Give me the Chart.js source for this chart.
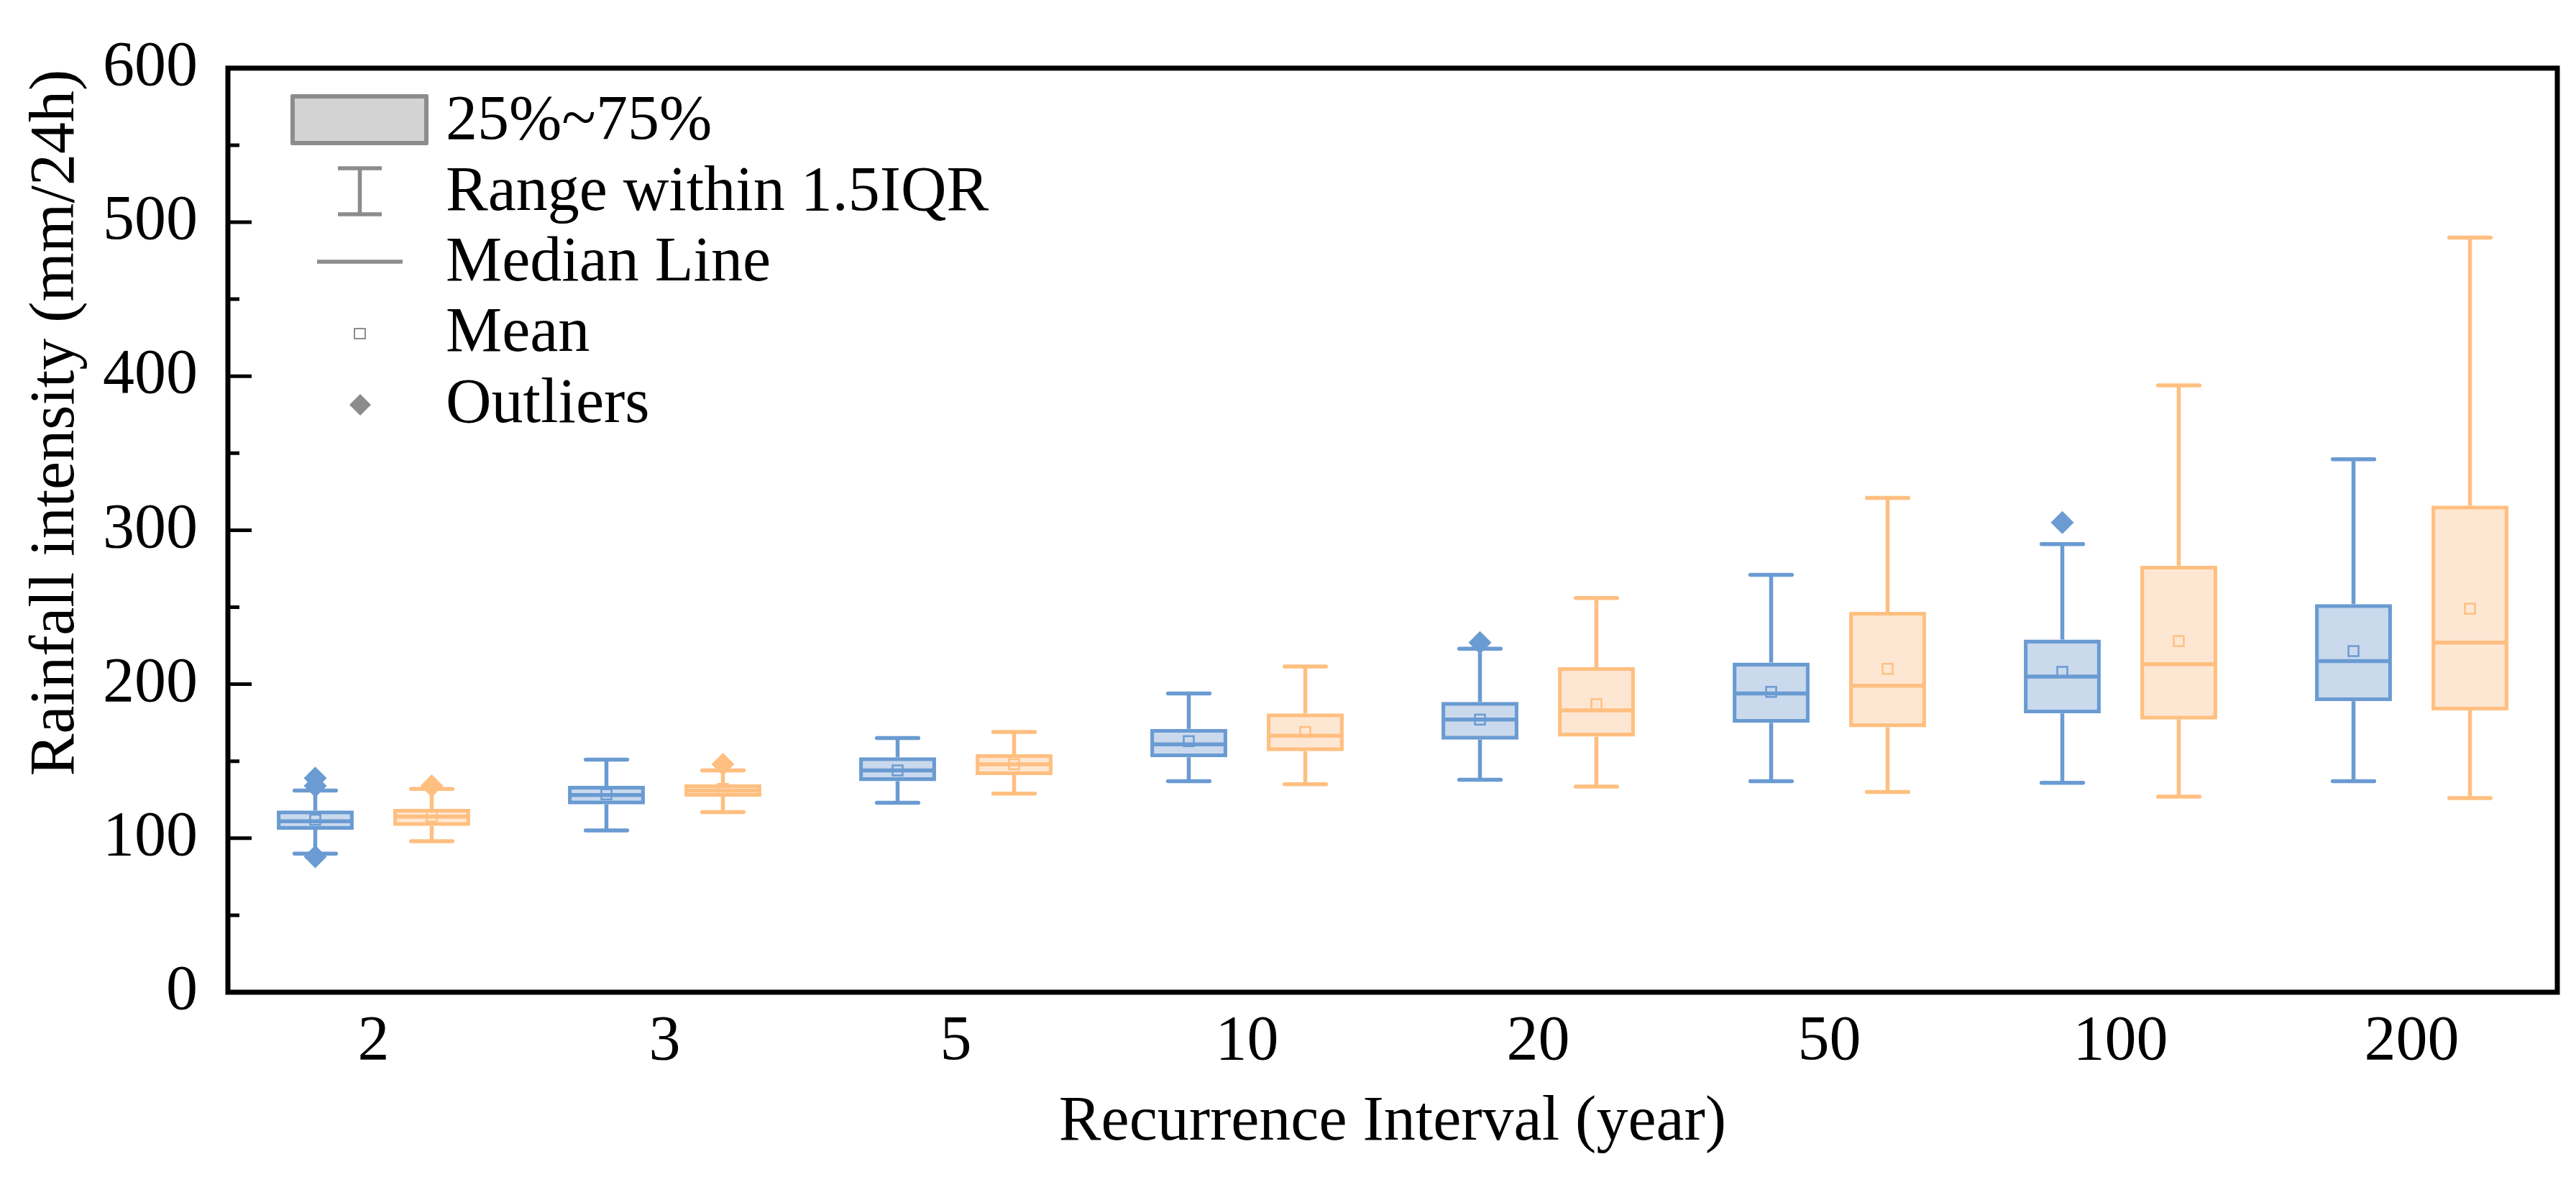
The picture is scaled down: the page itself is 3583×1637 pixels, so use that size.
<!DOCTYPE html>
<html>
<head>
<meta charset="utf-8">
<script src="https://cdn.jsdelivr.net/npm/chart.js@4.4.1/dist/chart.umd.min.js"></script>
<style>
  html, body { margin: 0; padding: 0; background: #fff; }
  #wrap { width: 3583px; height: 1637px; }
</style>
</head>
<body>
<div id="wrap"><canvas id="chart" width="3583" height="1637"></canvas></div>
<script>
// recurrence intervals (years)
const categories = ['2', '3', '5', '10', '20', '50', '100', '200'];
const yTicks = [0, 100, 200, 300, 400, 500, 600];

// blue series
const blueLow    = [90, 105, 123, 137, 138, 137, 136, 137];
const blueQ1     = [105.5, 122, 137, 152.5, 164, 175, 181, 189];
const blueMedian = [111, 128, 144, 161, 177, 194, 205, 215];
const blueMean   = [112, 128.5, 144, 163, 177, 195, 208, 221.5];
const blueQ3     = [118, 134, 152.5, 171, 188.5, 214, 229, 252];
const blueHigh   = [131, 151, 165, 194, 223, 271, 291, 346];
const blueOut    = [[139, 134, 88], [], [], [], [227], [], [305], []];

// orange series
const orangeLow    = [98, 117, 129, 135, 133.5, 130, 127, 126];
const orangeQ1     = [108, 127, 141, 156.5, 166, 172, 177, 183];
const orangeMedian = [114, 131, 148, 166.5, 183, 199, 213, 227];
const orangeMean   = [114, 132, 148, 169, 187, 210, 228, 249];
const orangeQ3     = [119, 135, 154.5, 181, 211, 247, 277, 316];
const orangeHigh   = [132, 144, 169, 211.5, 256, 321, 394, 490];
const orangeOut    = [[134], [148], [], [], [], [], [], []];

const legendLabels = ['25%~75%', 'Range within 1.5IQR', 'Median Line', 'Mean', 'Outliers'];

const series = [
  { line: '#6a9bd2', fill: '#cad9ec', low: blueLow, q1: blueQ1, med: blueMedian, mean: blueMean, q3: blueQ3, high: blueHigh, out: blueOut },
  { line: '#ffbf80', fill: '#fde7d3', low: orangeLow, q1: orangeQ1, med: orangeMedian, mean: orangeMean, q3: orangeQ3, high: orangeHigh, out: orangeOut }
];

const FONT = "'Liberation Serif', 'Times New Roman', serif";
Chart.defaults.font.family = FONT;
Chart.defaults.font.size = 88;
Chart.defaults.color = '#000';

function diamond(ctx, x, y, r) {
  ctx.beginPath();
  ctx.moveTo(x, y - r);
  ctx.lineTo(x + r, y);
  ctx.lineTo(x, y + r);
  ctx.lineTo(x - r, y);
  ctx.closePath();
  ctx.fill();
}

// whiskers, medians, means, outliers on top of the bars
const boxExtras = {
  id: 'boxExtras',
  afterDatasetsDraw(chart) {
    const ctx = chart.ctx;
    const ys = chart.scales.y;
    ctx.save();
    series.forEach((s, d) => {
      const meta = chart.getDatasetMeta(d);
      meta.data.forEach((bar, i) => {
        const { x, width } = bar.getProps(['x', 'width'], true);
        const cap = width * 0.54;
        ctx.strokeStyle = s.line;
        ctx.fillStyle = s.line;
        ctx.lineWidth = 5.5;
        ctx.lineCap = 'butt';
        // whisker stems
        ctx.beginPath();
        ctx.moveTo(x, ys.getPixelForValue(s.q3[i]));
        ctx.lineTo(x, ys.getPixelForValue(s.high[i]));
        ctx.moveTo(x, ys.getPixelForValue(s.q1[i]));
        ctx.lineTo(x, ys.getPixelForValue(s.low[i]));
        ctx.stroke();
        // caps
        ctx.lineCap = 'round';
        ctx.beginPath();
        [s.high[i], s.low[i]].forEach(v => {
          const py = ys.getPixelForValue(v);
          ctx.moveTo(x - cap / 2, py);
          ctx.lineTo(x + cap / 2, py);
        });
        ctx.stroke();
        // median
        ctx.lineCap = 'butt';
        const pm = ys.getPixelForValue(s.med[i]);
        ctx.beginPath();
        ctx.moveTo(x - width / 2 + 3, pm);
        ctx.lineTo(x + width / 2 - 3, pm);
        ctx.stroke();
        // mean
        ctx.lineWidth = 2.5;
        const pmean = ys.getPixelForValue(s.mean[i]);
        ctx.strokeRect(x - 7, pmean - 7, 14, 14);
        // outliers
        s.out[i].forEach(v => diamond(ctx, x, ys.getPixelForValue(v), 16));
      });
    });
    ctx.restore();
  },
  afterDraw(chart) {
    const ctx = chart.ctx;
    const a = chart.chartArea;
    const ys = chart.scales.y;
    ctx.save();
    // frame
    ctx.strokeStyle = '#000';
    ctx.lineWidth = 7;
    ctx.strokeRect(a.left, a.top, a.right - a.left, a.bottom - a.top);
    // inward ticks on the left axis
    ctx.lineWidth = 5;
    ctx.beginPath();
    yTicks.forEach(v => {
      const py = ys.getPixelForValue(v);
      ctx.moveTo(a.left, py);
      ctx.lineTo(a.left + 33, py);
      if (v < 600) {
        const pm = ys.getPixelForValue(v + 50);
        ctx.moveTo(a.left, pm);
        ctx.lineTo(a.left + 16, pm);
      }
    });
    ctx.stroke();

    // axis titles
    ctx.fillStyle = '#000';
    ctx.font = '88px ' + FONT;
    ctx.textAlign = 'center';
    ctx.textBaseline = 'alphabetic';
    ctx.fillText('Recurrence Interval (year)', (a.left + a.right) / 2, 1585);
    ctx.save();
    ctx.translate(102, 588);
    ctx.rotate(-Math.PI / 2);
    ctx.fillText('Rainfall intensity (mm/24h)', 0, 0);
    ctx.restore();

    // legend
    const gray = '#8c8c8c';
    ctx.fillStyle = '#d3d3d3';
    ctx.fillRect(404, 131, 192, 71);
    ctx.strokeStyle = gray;
    ctx.lineWidth = 6;
    ctx.lineJoin = 'round';
    ctx.strokeRect(407, 134, 186, 65);
    ctx.lineWidth = 5.5;
    ctx.beginPath();
    ctx.moveTo(470, 234); ctx.lineTo(531, 234);
    ctx.moveTo(500.5, 234); ctx.lineTo(500.5, 298);
    ctx.moveTo(470, 298); ctx.lineTo(531, 298);
    ctx.stroke();
    ctx.beginPath();
    ctx.moveTo(441, 364); ctx.lineTo(560, 364);
    ctx.stroke();
    ctx.lineWidth = 2;
    ctx.strokeRect(493, 457, 15, 14);
    ctx.fillStyle = gray;
    diamond(ctx, 501, 563, 15);

    ctx.fillStyle = '#000';
    ctx.textAlign = 'left';
    const base = [193, 292, 390, 488, 587];
    legendLabels.forEach((t, k) => ctx.fillText(t, 620, base[k]));
    ctx.restore();
  }
};

new Chart(document.getElementById('chart'), {
  type: 'bar',
  data: {
    labels: categories,
    datasets: series.map(s => ({
      data: s.q1.map((q, i) => [q, s.q3[i]]),
      backgroundColor: s.fill,
      borderColor: s.line,
      borderWidth: 5.5,
      borderSkipped: false,
      categoryPercentage: 0.8,
      barPercentage: 0.66
    }))
  },
  options: {
    responsive: false,
    devicePixelRatio: 1,
    animation: false,
    layout: { padding: { left: 0, top: 80, right: 26, bottom: 0 } },
    plugins: { legend: { display: false }, tooltip: { enabled: false } },
    scales: {
      x: {
        grid: { display: false, drawTicks: false },
        border: { display: false },
        ticks: { padding: 17, font: { size: 88 } },
        afterFit(scale) { scale.height = 257; }
      },
      y: {
        min: 0,
        max: 600,
        grid: { display: false, drawTicks: false },
        border: { display: false },
        ticks: { stepSize: 100, padding: 42, font: { size: 88 } },
        afterFit(scale) { scale.width = 317; }
      }
    }
  },
  plugins: [boxExtras]
});
</script>
</body>
</html>
